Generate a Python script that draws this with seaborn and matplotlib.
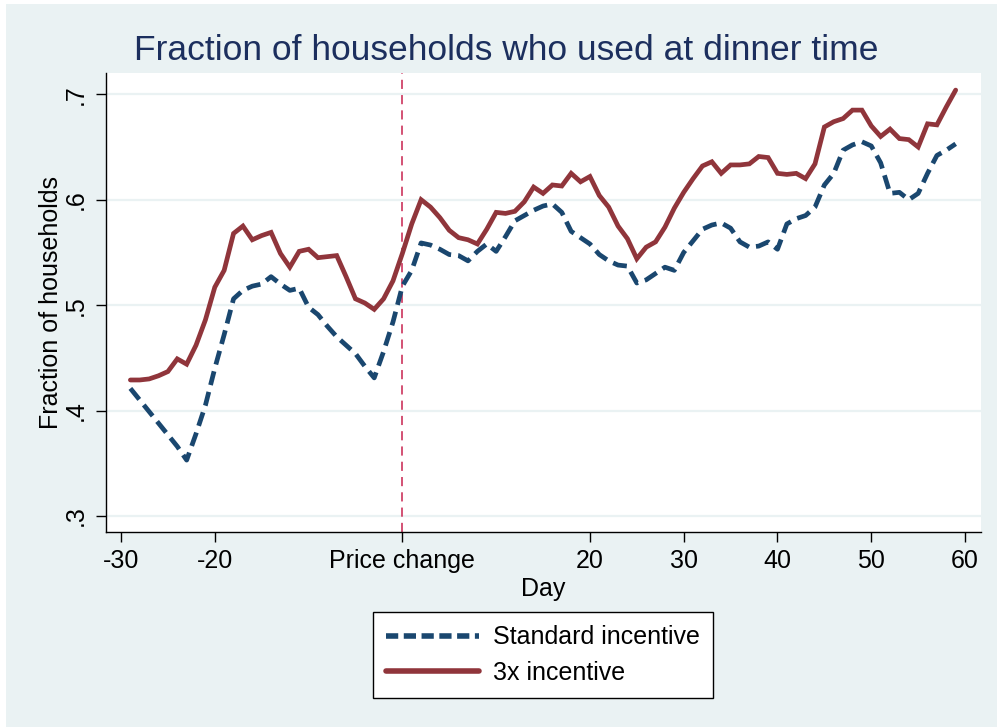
import matplotlib
matplotlib.use("Agg")
import matplotlib.pyplot as plt
import seaborn as sns
import pandas as pd
import numpy as np
from matplotlib.patches import Rectangle
from matplotlib.lines import Line2D

days = list(range(-29, 60))

standard = [0.421, 0.410, 0.399, 0.388, 0.377, 0.366, 0.353, 0.378, 0.405, 0.440,
            0.472, 0.506, 0.514, 0.518, 0.520, 0.527, 0.520, 0.514, 0.516, 0.498,
            0.491, 0.480, 0.470, 0.462, 0.454, 0.442, 0.431, 0.456, 0.484, 0.518,
            0.533, 0.559, 0.557, 0.553, 0.548, 0.547, 0.542, 0.551, 0.558, 0.551,
            0.565, 0.580, 0.585, 0.590, 0.594, 0.596, 0.588, 0.570, 0.564, 0.558,
            0.548, 0.542, 0.538, 0.537, 0.521, 0.524, 0.530, 0.536, 0.533, 0.550,
            0.561, 0.572, 0.576, 0.578, 0.573, 0.560, 0.555, 0.556, 0.560, 0.553,
            0.577, 0.582, 0.585, 0.593, 0.614, 0.625, 0.647, 0.652, 0.655, 0.651,
            0.635, 0.606, 0.607, 0.600, 0.606, 0.625, 0.642, 0.647, 0.653]

triple = [0.429, 0.429, 0.430, 0.433, 0.437, 0.449, 0.444, 0.462, 0.486, 0.517,
          0.533, 0.568, 0.575, 0.562, 0.566, 0.569, 0.549, 0.536, 0.551, 0.553,
          0.545, 0.546, 0.547, 0.527, 0.506, 0.502, 0.496, 0.506, 0.523, 0.549,
          0.577, 0.600, 0.593, 0.583, 0.571, 0.564, 0.562, 0.558, 0.572, 0.588,
          0.587, 0.589, 0.598, 0.612, 0.606, 0.614, 0.613, 0.625, 0.617, 0.622,
          0.604, 0.593, 0.575, 0.563, 0.544, 0.555, 0.560, 0.574, 0.592, 0.607,
          0.620, 0.632, 0.636, 0.625, 0.633, 0.633, 0.634, 0.641, 0.640, 0.625,
          0.624, 0.625, 0.620, 0.634, 0.669, 0.674, 0.677, 0.685, 0.685, 0.670,
          0.660, 0.667, 0.658, 0.657, 0.650, 0.672, 0.671, 0.688, 0.704]

series_names = ["Standard incentive", "3x incentive"]
x_ticks = [-30, -20, 0, 20, 30, 40, 50, 60]
x_tick_labels = ["-30", "-20", "Price change", "20", "30", "40", "50", "60"]
y_ticks = [0.3, 0.4, 0.5, 0.6, 0.7]
y_tick_labels = [".3", ".4", ".5", ".6", ".7"]

df = pd.DataFrame({
    "Day": days * 2,
    "value": standard + triple,
    "group": [series_names[0]] * len(days) + [series_names[1]] * len(days),
})

sns.set_theme(style="white")
plt.rcParams["font.family"] = ["Liberation Sans", "DejaVu Sans"]

W, H = 997, 727
fig = plt.figure(figsize=(W / 100, H / 100), dpi=100, facecolor="white")
bg = "#EAF2F3"
fig.patches.append(Rectangle((6 / W, 0), 1 - 6 / W, 1 - 4 / H, transform=fig.transFigure,
                             facecolor=bg, edgecolor="none", zorder=-10))

left, right, top, bottom = 106, 981, 73, 532
ax = fig.add_axes([left / W, 1 - bottom / H, (right - left) / W, (bottom - top) / H])
ax.set_facecolor("white")

navy = "#1A476F"
maroon = "#90353B"
palette = {series_names[0]: navy, series_names[1]: maroon}
dashes = {series_names[0]: (3.0, 1.5), series_names[1]: ""}

sns.lineplot(data=df, x="Day", y="value", hue="group", style="group",
             palette=palette, dashes=dashes, linewidth=3.4, ax=ax, legend=False,
             hue_order=series_names, style_order=series_names)
for ln in ax.get_lines():
    ln.set_dash_capstyle("butt")
    ln.set_solid_joinstyle("miter")

ax.axvline(0, color="#C8224E", linewidth=1.1, linestyle=(0, (6, 4)), zorder=1)

fs = 18
ax.set_xlim(-31.6, 61.7)
ax.set_ylim(0.2848, 0.7202)
ax.set_xticks(x_ticks)
ax.set_xticklabels(x_tick_labels, fontsize=fs)
ax.set_yticks(y_ticks)
ax.set_yticklabels(y_tick_labels, fontsize=fs, rotation=90, va="center")
ax.yaxis.grid(True, color=bg, linewidth=1.6)
ax.set_axisbelow(True)
for s in ["top", "right"]:
    ax.spines[s].set_visible(False)
for s in ["left", "bottom"]:
    ax.spines[s].set_color("black")
    ax.spines[s].set_linewidth(1.0)
ax.tick_params(axis="both", direction="out", length=7, width=1.0, color="black",
               labelcolor="black", bottom=True, left=True)
ax.tick_params(axis="x", pad=5)
ax.tick_params(axis="y", pad=6)

ax.set_xlabel("Day", fontsize=fs, color="black", labelpad=3)
ax.set_ylabel("Fraction of households", fontsize=fs, color="black", labelpad=1)

fig.text(0.5 * (137 + 876) / W, 1 - 50 / H, "Fraction of households who used at dinner time",
         ha="center", va="center", fontsize=25.5, color="#1C2F5E")

handles = [Line2D([], [], color=navy, linewidth=4.0, linestyle=(0, (2.2, 1.0)), dash_capstyle="butt"),
           Line2D([], [], color=maroon, linewidth=4.0)]
leg = fig.legend(handles, series_names, loc="center",
                 bbox_to_anchor=(543 / W, 1 - 655 / H), fontsize=fs,
                 frameon=True, fancybox=False, edgecolor="black", facecolor="white",
                 framealpha=1.0,
                 handlelength=3.7, handletextpad=0.55, labelspacing=0.45,
                 borderpad=0.55, borderaxespad=0)
leg.get_frame().set_linewidth(1.0)
for t in leg.get_texts():
    t.set_color("black")

fig.savefig("out.png", dpi=100, facecolor=fig.get_facecolor())
